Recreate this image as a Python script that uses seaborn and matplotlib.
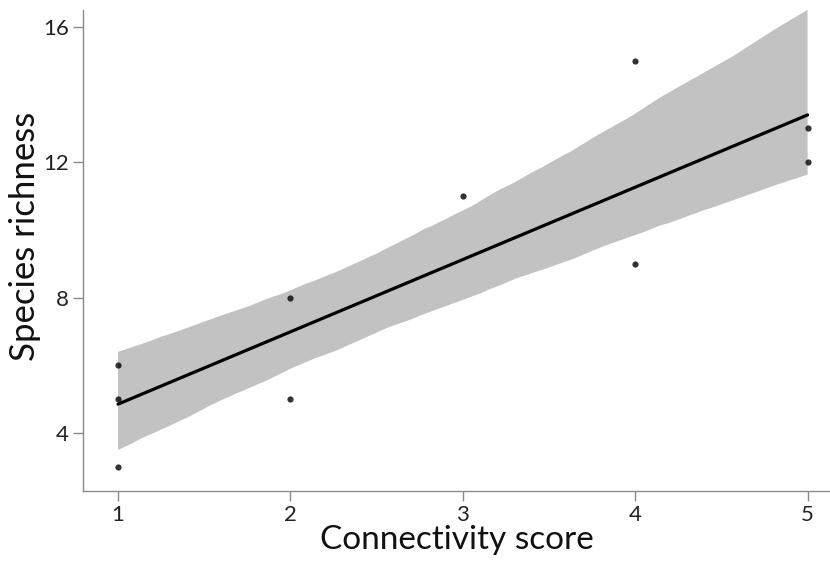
import numpy as np
import pandas as pd
import matplotlib
matplotlib.use("Agg")
import matplotlib.pyplot as plt
import seaborn as sns

connectivity = [1, 1, 1, 2, 2, 3, 4, 4, 5, 5]
richness = [3, 5, 6, 5, 8, 11, 9, 15, 12, 13]
x_ticks = [1, 2, 3, 4, 5]
y_ticks = [4, 8, 12, 16]

df = pd.DataFrame({"Connectivity score": connectivity, "Species richness": richness})

sns.set_style("white")
plt.rcParams["font.family"] = ["Lato", "DejaVu Sans"]

fig = plt.figure(figsize=(8.3, 5.64), dpi=100)
ax = fig.add_axes([0.1, 0.1294, 0.9, 0.853])

sns.regplot(data=df, x="Connectivity score", y="Species richness", ax=ax,
            ci=95, seed=0, n_boot=1000, color="black",
            scatter_kws={"s": 20, "zorder": 3, "linewidths": 0},
            line_kws={"color": "black", "lw": 2.3, "zorder": 2})

for coll in ax.collections:
    if isinstance(coll, matplotlib.collections.PolyCollection) or coll.__class__.__name__ == "FillBetweenPolyCollection":
        coll.set_facecolor("#c2c2c2")
        coll.set_alpha(1)
        coll.set_edgecolor("none")
        coll.set_zorder(1)

ax.set_xlim(0.797, 5.13)
ax.set_ylim(2.29, 16.5)
ax.set_xticks(x_ticks)
ax.set_yticks(y_ticks)
ax.set_xticklabels([str(v) for v in x_ticks])
ax.set_yticklabels([str(v) for v in y_ticks])

for side in ["top", "right"]:
    ax.spines[side].set_visible(False)
for side in ["left", "bottom"]:
    ax.spines[side].set_color("#8a8a8a")
    ax.spines[side].set_linewidth(1.0)

ax.tick_params(axis="both", which="major", direction="out", length=7,
               width=1.0, color="#8a8a8a", labelsize=16, labelcolor="#222222", pad=3,
               left=True, bottom=True)
ax.set_xlabel("Connectivity score", fontsize=24, color="#111111", labelpad=0)
ax.set_ylabel("Species richness", fontsize=25, color="#111111")
ax.yaxis.set_label_coords(-0.056, 0.53)

fig.savefig("out.png", dpi=100)
